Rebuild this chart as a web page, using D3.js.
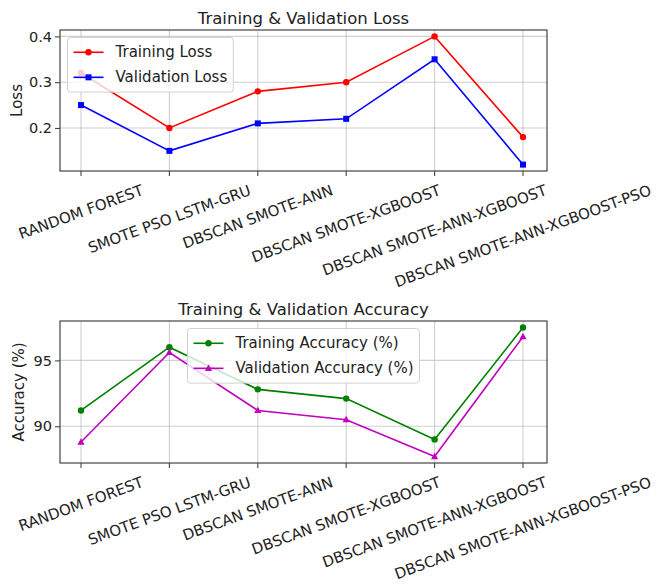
<!DOCTYPE html>
<html><head><meta charset="utf-8">
<script src="https://cdn.jsdelivr.net/npm/d3@7"></script>
<style>
html,body{margin:0;padding:0;background:#fff;}
svg text{font-family:"DejaVu Sans",sans-serif;fill:#222;}
</style></head>
<body>
<svg id="chart" width="669" height="585"></svg>
<script>
const categories = ["RANDOM FOREST","SMOTE PSO LSTM-GRU","DBSCAN SMOTE-ANN","DBSCAN SMOTE-XGBOOST","DBSCAN SMOTE-ANN-XGBOOST","DBSCAN SMOTE-ANN-XGBOOST-PSO"];
const trainLoss = [0.32,0.20,0.28,0.30,0.40,0.18];
const valLoss   = [0.25,0.15,0.21,0.22,0.35,0.12];
const trainAcc  = [91.2,96.0,92.8,92.1,89.0,97.5];
const valAcc    = [88.8,95.6,91.2,90.5,87.7,96.8];
const lossTicks = [0.2,0.3,0.4];
const accTicks  = [90,95];

const svg = d3.select("#chart");
const FS = 15;

function marker(g, shape, x, y, color){
  if(shape==="circle") g.append("circle").attr("cx",x).attr("cy",y).attr("r",3.2).attr("fill",color);
  else if(shape==="square") g.append("rect").attr("x",x-3).attr("y",y-3).attr("width",6).attr("height",6).attr("fill",color);
  else g.append("path").attr("d",`M${x},${y-3.8}L${x+3.6},${y+2.6}L${x-3.6},${y+2.6}Z`).attr("fill",color);
}

function panel(cfg){
  const L=60, R=547, T=cfg.top, B=cfg.bottom;
  const g = svg.append("g");
  const x = d3.scalePoint().domain(categories).range([81,523]);
  const all = cfg.series.flatMap(s=>s.values);
  const [mn,mx] = d3.extent(all); const pad=(mx-mn)*0.05;
  const y = d3.scaleLinear().domain([mn-pad,mx+pad]).range([B,T]);

  // grid
  g.append("g").selectAll("line").data(categories).join("line")
    .attr("x1",d=>x(d)).attr("x2",d=>x(d)).attr("y1",T).attr("y2",B)
    .attr("stroke","#b0b0b0").attr("stroke-opacity",0.6).attr("stroke-width",1.1);
  g.append("g").selectAll("line").data(cfg.ticks).join("line")
    .attr("x1",L).attr("x2",R).attr("y1",d=>y(d)).attr("y2",d=>y(d))
    .attr("stroke","#b0b0b0").attr("stroke-opacity",0.6).attr("stroke-width",1.1);

  // series
  cfg.series.forEach(s=>{
    const line = d3.line().x((d,i)=>x(categories[i])).y(d=>y(d));
    g.append("path").datum(s.values).attr("d",line).attr("fill","none")
      .attr("stroke",s.color).attr("stroke-width",1.6);
    s.values.forEach((v,i)=>marker(g,s.shape,x(categories[i]),y(v),s.color));
  });

  // y axis
  const ya = g.append("g").attr("transform",`translate(${L},0)`)
    .call(d3.axisLeft(y).tickValues(cfg.ticks).tickFormat(cfg.fmt).tickSize(5).tickPadding(3));
  ya.select(".domain").remove();
  ya.selectAll("line").attr("stroke","#444").attr("stroke-width",1.1);
  ya.selectAll("text").attr("font-size",14.5).attr("font-family","DejaVu Sans").attr("fill","#222");
  let tickLeft = L;
  ya.selectAll("text").each(function(){ const w=this.getComputedTextLength(); tickLeft=Math.min(tickLeft, L-8-w); });

  // x axis tick marks
  g.append("g").selectAll("line").data(categories).join("line")
    .attr("x1",d=>x(d)).attr("x2",d=>x(d)).attr("y1",B).attr("y2",B+5)
    .attr("stroke","#444").attr("stroke-width",1.1);

  // x tick labels rotated 20deg, bbox centred on tick, top aligned
  const topY = B + 10.5, h = FS*1.17, a = 20*Math.PI/180;
  categories.forEach(c=>{
    const t = g.append("text").attr("font-size",FS).attr("text-anchor","middle")
      .attr("dominant-baseline","central").text(c);
    const w = t.node().getComputedTextLength();
    const H = w*Math.sin(a) + h*Math.cos(a);
    const cx = x(c), cy = topY + H/2;
    t.attr("x",cx).attr("y",cy).attr("transform",`rotate(-20,${cx},${cy})`);
  });

  // frame
  g.append("rect").attr("x",L).attr("y",T).attr("width",R-L).attr("height",B-T)
    .attr("fill","none").attr("stroke","#444").attr("stroke-width",1.2);

  // title
  g.append("text").attr("x",(L+R)/2).attr("y",T-6).attr("text-anchor","middle")
    .attr("font-size",16.5).text(cfg.title);
  // y label (baseline placed left of tick labels)
  const yl = tickLeft - 6 - cfg.ydesc;
  g.append("text").attr("transform",`translate(${yl},${(T+B)/2}) rotate(-90)`)
    .attr("text-anchor","middle")
    .attr("font-size",FS).text(cfg.ylabel);

  // legend
  const lg = g.append("g");
  const bp = 0.4*FS, hl = 2*FS, htp = 0.8*FS, rowH = FS*1.17, ls = 0.5*FS;
  const texts = cfg.series.map(s=>{
    const t = lg.append("text").attr("font-size",FS).attr("dominant-baseline","central").text(s.name);
    return t;
  });
  const tw = d3.max(texts, t=>t.node().getComputedTextLength());
  const lw = bp*2 + hl + htp + tw;
  const lh = bp*2 + rowH*cfg.series.length + ls*(cfg.series.length-1);
  const lx = cfg.legend==="left" ? L + 7.5 : (L+R)/2 - lw/2;
  const ly = T + 7.5;
  lg.insert("rect","text").attr("x",lx).attr("y",ly).attr("width",lw).attr("height",lh)
    .attr("rx",3).attr("fill","#fff").attr("fill-opacity",0.8)
    .attr("stroke","#d0d0d0").attr("stroke-width",1);
  cfg.series.forEach((s,i)=>{
    const cy = ly + bp + rowH/2 + i*(rowH+ls);
    lg.append("line").attr("x1",lx+bp).attr("x2",lx+bp+hl).attr("y1",cy).attr("y2",cy)
      .attr("stroke",s.color).attr("stroke-width",1.6);
    marker(lg,s.shape,lx+bp+hl/2,cy,s.color);
    texts[i].attr("x",lx+bp+hl+htp).attr("y",cy).raise();
  });
}

panel({top:30,bottom:171,title:"Training & Validation Loss",ylabel:"Loss",ydesc:0.5,
  ticks:lossTicks,fmt:d3.format(".1f"),legend:"left",
  series:[{name:"Training Loss",values:trainLoss,color:"#ff0000",shape:"circle"},
          {name:"Validation Loss",values:valLoss,color:"#0000ff",shape:"square"}]});
panel({top:321,bottom:463,title:"Training & Validation Accuracy",ylabel:"Accuracy (%)",ydesc:3.5,
  ticks:accTicks,fmt:d3.format("d"),legend:"center",
  series:[{name:"Training Accuracy (%)",values:trainAcc,color:"#008000",shape:"circle"},
          {name:"Validation Accuracy (%)",values:valAcc,color:"#bf00bf",shape:"triangle"}]});
</script>
</body></html>
